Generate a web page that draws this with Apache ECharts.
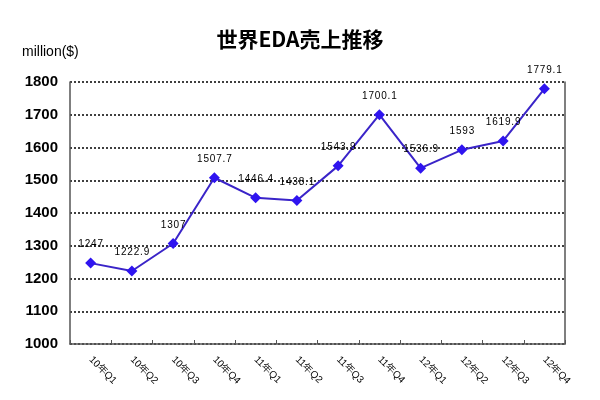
<!DOCTYPE html>
<html>
<head>
<meta charset="utf-8">
<script src="https://cdn.jsdelivr.net/npm/echarts@6/dist/echarts.min.js"></script>
<style>html,body{margin:0;padding:0;background:#fff;}#c{width:600px;height:400px;}</style>
</head>
<body>
<div id="c"></div>
<script>
const categories = ['10年Q1','10年Q2','10年Q3','10年Q4','11年Q1','11年Q2','11年Q3','11年Q4','12年Q1','12年Q2','12年Q3','12年Q4'];
const sales = [1247, 1222.9, 1307, 1507.7, 1446.4, 1438.1, 1543.9, 1700.1, 1536.9, 1593, 1619.9, 1779.1];
const yTicks = [1000, 1100, 1200, 1300, 1400, 1500, 1600, 1700, 1800];

const chart = echarts.init(document.getElementById('c'), null, {renderer: 'canvas'});
chart.setOption({
  backgroundColor: '#fff',
  animation: false,
  title: [{
    text: '世界EDA売上推移',
    left: 'center',
    top: 24,
    textStyle: {fontSize: 21, fontWeight: 'bold', color: '#000', fontFamily: '"Noto Sans CJK JP", sans-serif'}
  }, {
    text: 'million($)',
    left: 17,
    top: 40,
    textStyle: {fontSize: 14, fontWeight: 'normal', color: '#000', fontFamily: 'Liberation Sans, Arial, sans-serif'}
  }],
  grid: {left: 70, right: 35, top: 82, bottom: 56, containLabel: false},
  xAxis: {
    type: 'category',
    data: categories,
    boundaryGap: true,
    axisLine: {show: true, lineStyle: {color: '#555', width: 1.5}},
    axisTick: {show: true, inside: true, length: 4, lineStyle: {color: '#555'}},
    axisLabel: {rotate: -45, margin: 14, fontSize: 10, color: '#000', fontFamily: 'Liberation Sans, Arial, sans-serif'},
    splitLine: {show: false}
  },
  yAxis: [{
    type: 'value',
    min: yTicks[0],
    max: yTicks[yTicks.length - 1],
    interval: 100,
    axisLine: {show: true, lineStyle: {color: '#555', width: 1.5}},
    axisTick: {show: false},
    axisLabel: {margin: 12, fontSize: 15, fontWeight: 'bold', color: '#000', fontFamily: 'Liberation Sans, Arial, sans-serif', formatter: v => String(v)},
    splitLine: {show: true, lineStyle: {color: '#000', type: [2, 2], width: 1.5}}
  }, {
    type: 'value',
    min: yTicks[0],
    max: yTicks[yTicks.length - 1],
    interval: 100,
    position: 'right',
    axisLine: {show: true, lineStyle: {color: '#555', width: 1.5}},
    axisTick: {show: false},
    axisLabel: {show: false},
    splitLine: {show: false}
  }],
  series: [{
    type: 'line',
    data: sales,
    symbol: 'diamond',
    symbolSize: 11,
    lineStyle: {color: '#3a24c8', width: 2},
    itemStyle: {color: '#2f14f0'},
    label: {
      show: true,
      position: 'top',
      distance: 8,
      fontSize: 10,
      color: '#000',
      fontFamily: 'Liberation Sans, Arial, sans-serif',
      formatter: p => String(p.value).split('').join('\u200a')
    }
  }]
});
</script>
</body>
</html>
